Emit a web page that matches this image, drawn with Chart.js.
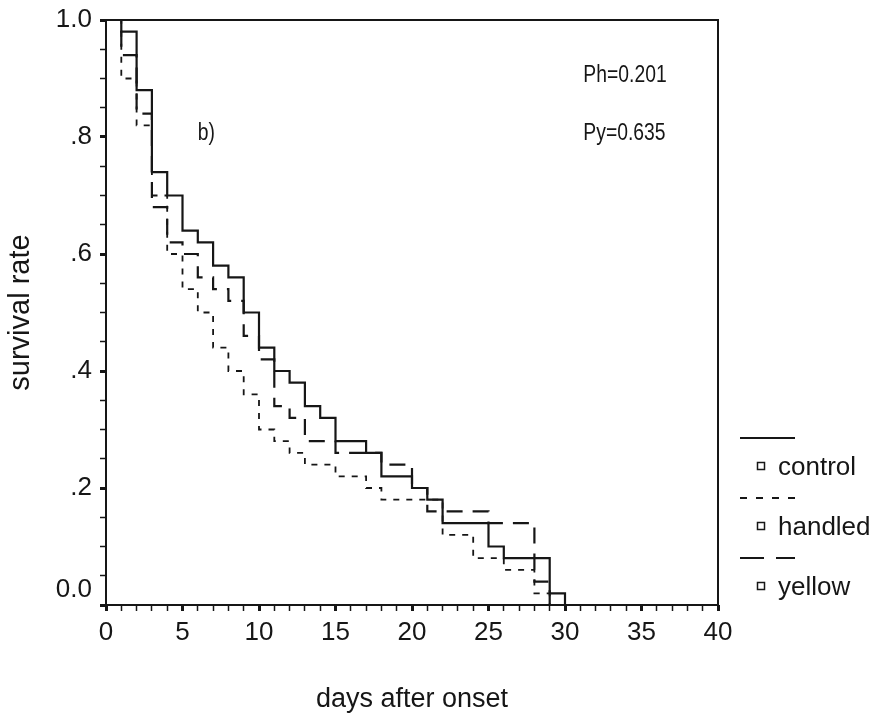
<!DOCTYPE html>
<html>
<head>
<meta charset="utf-8">
<script src="https://cdn.jsdelivr.net/npm/chart.js@4"></script>
<style>
  html, body { margin: 0; padding: 0; background: #fff; }
</style>
</head>
<body>
<canvas id="chart" width="878" height="718"></canvas>
<script>
// days since onset; each value holds from that day until the next one
const days = [0, 1, 2, 3, 4, 5, 6, 7, 8, 9, 10, 11, 12, 13, 14, 15, 16, 17, 18, 19, 20, 21, 22, 23, 24, 25, 26, 27, 28, 29, 30];
const control = [1.0, 0.98, 0.88, 0.74, 0.70, 0.64, 0.62, 0.58, 0.56, 0.50, 0.44, 0.40, 0.38, 0.34, 0.32, 0.28, 0.28, 0.26, 0.22, 0.22, 0.20, 0.18, 0.14, 0.14, 0.14, 0.10, 0.08, 0.08, 0.08, 0.02, 0];
const handled = [1.0, 0.90, 0.82, 0.70, 0.60, 0.54, 0.50, 0.44, 0.40, 0.36, 0.30, 0.28, 0.26, 0.24, 0.24, 0.22, 0.22, 0.20, 0.18, 0.18, 0.18, 0.18, 0.12, 0.12, 0.08, 0.08, 0.06, 0.06, 0.02, 0, 0];
const yellow = [1.0, 0.94, 0.84, 0.68, 0.62, 0.60, 0.56, 0.54, 0.52, 0.46, 0.42, 0.34, 0.32, 0.28, 0.28, 0.26, 0.26, 0.26, 0.24, 0.24, 0.20, 0.16, 0.16, 0.16, 0.16, 0.14, 0.14, 0.14, 0.04, 0, 0];

const seriesNames = ['control', 'handled', 'yellow'];
const seriesDash = [[], [6, 7], [16, 10]];
const legendDash = [[], [7, 9], [24, 12]];
const notes = [
  { text: 'Ph=0.201', x: 31.2, y: 0.905 },
  { text: 'Py=0.635', x: 31.2, y: 0.805 },
  { text: 'b)', x: 6.0, y: 0.805 },
];

const ink = '#161616';
const font = '"Liberation Sans", Arial, sans-serif';

function points(values) {
  return days.map((d, i) => ({ x: d, y: values[i] }));
}

const extras = {
  id: 'extras',
  afterDraw(chart) {
    const { ctx, chartArea: a, scales: { x, y } } = chart;
    ctx.save();
    ctx.strokeStyle = ink;
    ctx.lineWidth = 2;
    ctx.strokeRect(a.left, a.top, a.right - a.left, a.bottom - a.top);

    ctx.fillStyle = ink;
    ctx.textBaseline = 'middle';
    ctx.font = '23px ' + font;
    notes.forEach(n => {
      ctx.save();
      ctx.translate(x.getPixelForValue(n.x), y.getPixelForValue(n.y));
      ctx.scale(0.84, 1);
      ctx.fillText(n.text, 0, 0);
      ctx.restore();
    });

    // legend: line sample, then a small box and the name under it
    seriesNames.forEach((name, i) => {
      const ly = a.top + 418 + i * 60;
      ctx.setLineDash(legendDash[i]);
      ctx.lineWidth = 2;
      ctx.beginPath();
      ctx.moveTo(a.right + 22, ly);
      ctx.lineTo(a.right + 77, ly);
      ctx.stroke();
      ctx.setLineDash([]);
      ctx.lineWidth = 1.5;
      ctx.strokeRect(a.right + 39.5, ly + 24.5, 7, 7);
      ctx.font = '26px ' + font;
      ctx.fillText(name, a.right + 60, ly + 30);
    });
    ctx.restore();
  }
};

const datasets = [control, handled, yellow].map((vals, i) => ({
  label: seriesNames[i],
  data: points(vals),
  stepped: 'before',
  borderColor: ink,
  borderWidth: i === 1 ? 1.8 : 2.2,
  borderDash: seriesDash[i],
  pointRadius: 0,
  fill: false,
}));

new Chart(document.getElementById('chart'), {
  type: 'line',
  data: { datasets },
  options: {
    responsive: false,
    animation: false,
    layout: { padding: { left: 0, right: 160, top: 20, bottom: 0 } },
    plugins: { legend: { display: false }, tooltip: { enabled: false } },
    scales: {
      x: {
        type: 'linear',
        min: 0,
        max: 40,
        afterFit: s => { s.height = 113; },
        border: { display: false },
        grid: {
          drawOnChartArea: false,
          tickLength: 6,
          tickColor: ink,
          tickWidth: c => (c.tick && c.tick.value % 5 === 0 ? 3 : 1.5),
        },
        ticks: {
          stepSize: 1,
          autoSkip: false,
          maxRotation: 0,
          padding: 6,
          color: ink,
          font: { family: font, size: 26 },
          callback: v => (v % 5 === 0 ? String(v) : ''),
        },
        title: {
          display: true,
          text: 'days after onset',
          color: ink,
          font: { family: font, size: 27 },
          padding: { top: 0, bottom: 2 },
        },
      },
      y: {
        min: 0,
        max: 1,
        afterFit: s => { s.width = 106; s.paddingTop = 0; s.paddingBottom = 0; },
        border: { display: false },
        grid: {
          drawOnChartArea: false,
          tickLength: 6,
          tickColor: ink,
          tickWidth: c => (c.tick && Math.round(c.tick.value * 100) % 20 === 0 ? 3 : 1.5),
        },
        ticks: {
          stepSize: 0.05,
          autoSkip: false,
          padding: 8,
          color: ink,
          font: { family: font, size: 26 },
          callback: v => {
            const k = Math.round(v * 100);
            if (k % 20) return '';
            if (k === 100) return '1.0';
            if (k === 0) return ['0.0', ''];
            return '.' + k / 10;
          },
        },
        title: {
          display: true,
          text: 'survival rate',
          color: ink,
          font: { family: font, size: 29 },
          padding: { top: 4, bottom: 0 },
        },
      },
    },
  },
  plugins: [extras],
});
</script>
</body>
</html>
